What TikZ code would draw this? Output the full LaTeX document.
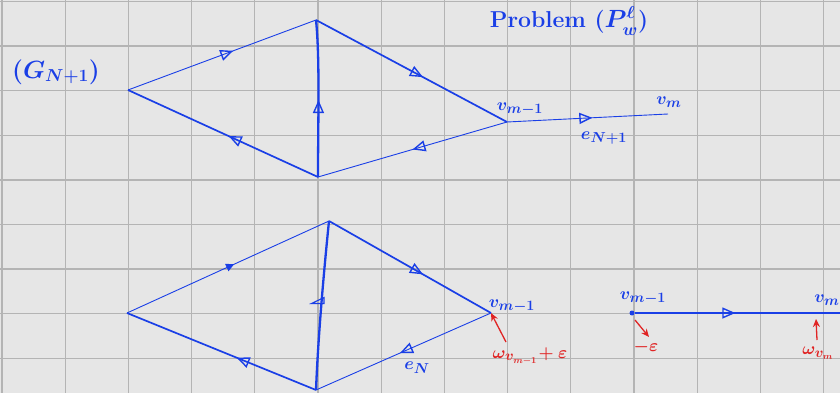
\documentclass[tikz,border=0pt]{standalone}
\usetikzlibrary{arrows.meta,decorations.markings}
\definecolor{paper}{HTML}{E6E6E6}
\definecolor{gridc}{HTML}{B4B4B4}
\definecolor{pen}{HTML}{1A3FE6}
\definecolor{redpen}{HTML}{E02424}
\tikzset{
  thinedge/.style={pen,line width=0.9pt},
  thickedge/.style={pen,line width=1.7pt},
  midarr/.style={postaction={decorate,decoration={markings,mark=at position #1 with {\arrow[pen,line width=1.4pt]{Triangle[open,length=13pt,width=11pt]}}}}},
  midfill/.style={postaction={decorate,decoration={markings,mark=at position #1 with {\arrow[pen]{Triangle[length=8pt,width=8pt]}}}}},
  lab/.style={text=pen,font=\fontsize{19}{21}\selectfont\boldmath,inner sep=1pt},
  rlab/.style={text=redpen,font=\fontsize{19}{21}\selectfont\boldmath,inner sep=1pt},
  redarr/.style={redpen,line width=1.3pt,-{Stealth[length=8pt,width=7pt]}},
  vdot/.style={circle,fill=pen,inner sep=0pt,minimum size=5pt}
}
\begin{document}
\begin{tikzpicture}[x=1pt,y=-1pt]
\useasboundingbox (0,0) rectangle (840,393);
\fill[paper] (0,0) rectangle (840,393);
\foreach \i in {0,...,13} {\draw[gridc,line width=1.3pt] ({2+63.2*\i},0) -- ({2+63.2*\i},393);}
\foreach \j in {0,...,8} {\draw[gridc,line width=1.3pt] (0,{1.5+44.6*\j}) -- (840,{1.5+44.6*\j});}
% top diamond
\coordinate (L1) at (128,90);
\coordinate (T1) at (316,20);
\coordinate (B1) at (318,177);
\coordinate (R1) at (507,122);
\coordinate (M1) at (668,114);
\draw[thinedge,midarr=0.56] (L1) -- (T1);
\draw[thickedge,midarr=0.56] (T1) -- (R1);
\draw[thinedge,midarr=0.5] (R1) -- (B1);
\draw[thickedge,midarr=0.47] (B1) -- (L1);
\draw[pen,line width=2.3pt,midarr=0.49] (B1) .. controls (318,120) and (320,60) .. (T1);
\draw[thinedge,midarr=0.53] (R1) -- (M1);
\node[lab] (v1) at (520,109) {$v_{m-1}$};
\node[lab] (v2) at (669,102) {$v_m$};
\node[lab] (e1) at (604,138) {$e_{N+1}$};
\node[lab,font=\fontsize{23}{26}\selectfont\bfseries\boldmath] (title) at (569,21) {Problem ($P_{w}^{\ell}$)};
\node[lab,font=\fontsize{27}{30}\selectfont\boldmath] (G) at (56,72) {$(G_{N+1})$};
% bottom diamond
\coordinate (L2) at (127,313);
\coordinate (T2) at (329,221);
\coordinate (B2) at (316,390);
\coordinate (R2) at (491,313);
\draw[thinedge,midfill=0.53] (L2) -- (T2);
\draw[thickedge,midarr=0.58] (T2) -- (R2);
\draw[thinedge,midarr=0.52] (R2) -- (B2);
\draw[thickedge,midarr=0.42] (B2) -- (L2);
\draw[pen,line width=2.3pt] (T2) .. controls (323,280) and (318,340) .. (B2);
\draw[pen,line width=1.1pt] (311.5,303.5) -- (324,297.5) -- (324,303.5) -- cycle;
\node[lab] (v3) at (512,306) {$v_{m-1}$};
\node[lab] (eN) at (417,368) {$e_N$};
\coordinate (w1) at (506,342);
\draw[redarr] (w1) -- (R2);
\node[rlab] (w1lab) at (530,356) {$\omega_{v_{m-1}}\!+\varepsilon$};
% separate edge
\node[vdot] (P) at (632,313) {};
\coordinate (Q) at (840,313);
\draw[pen,line width=1.1pt,midarr=0.49] (P) -- (Q);
\node[lab] (v4) at (643,298) {$v_{m-1}$};
\node[lab] (v5) at (827,300) {$v_m$};
\coordinate (r1) at (635,320);
\coordinate (r2) at (649,337);
\draw[redarr] (r1) -- (r2);
\node[rlab] (eps) at (646,347) {$-\varepsilon$};
\coordinate (s1) at (817,340);
\coordinate (s2) at (816,319);
\draw[redarr] (s1) -- (s2);
\node[rlab] (wv) at (818,353) {$\omega_{v_m}$};
\end{tikzpicture}
\end{document}
